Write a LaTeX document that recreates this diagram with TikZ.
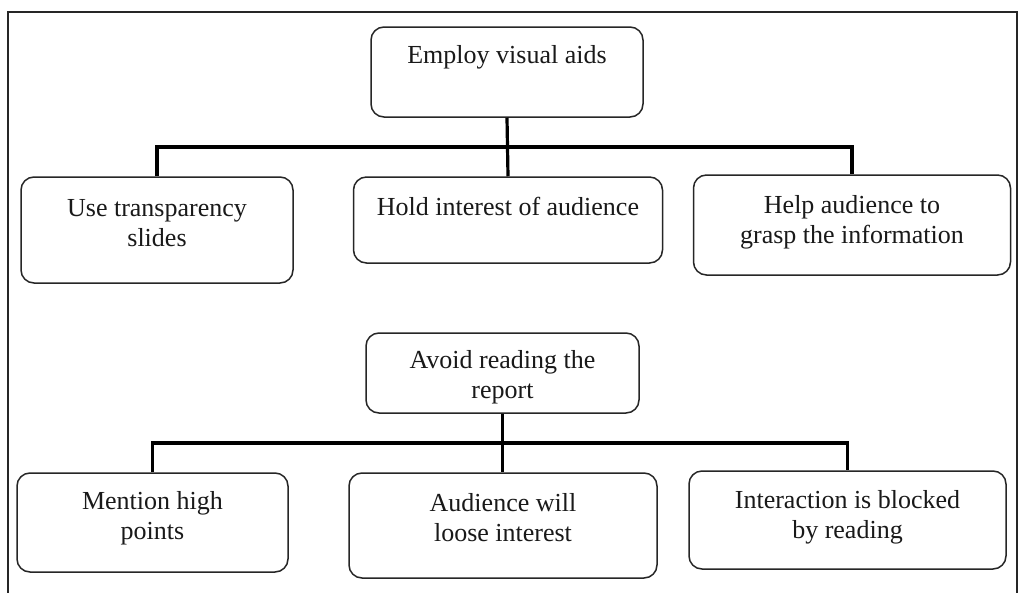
\documentclass[tikz,border=0pt]{standalone}
\usepackage{fontspec}
\setmainfont{Liberation Serif}
\begin{document}
\begin{tikzpicture}[x=1pt,y=-1pt,
  box/.style={draw=black!85, line width=1.5pt, rounded corners=13pt, inner sep=0pt},
  txt/.style={align=center, inner sep=0pt, font=\fontsize{26pt}{30pt}\selectfont, text=black!90},
  conn/.style={draw=black, line width=3.2pt},
  frame/.style={draw=black!85, line width=1.6pt}]
\useasboundingbox[fill=white] (0,0) rectangle (1023,592);
% frame
\draw[frame] (8,595) -- (8,12) -- (1017,12) -- (1017,595);
% upper group
\node[box, minimum width=272pt, minimum height=90pt] (top) at (507,72) {};
\node[txt] (ttop) at (507,57) {Employ visual aids};
\node[box, minimum width=272pt, minimum height=106pt] (b1) at (157,230) {};
\node[txt] (tb1) at (157,223) {Use transparency\\slides};
\node[box, minimum width=309pt, minimum height=86pt] (b2) at (508,220) {};
\node[txt] (tb2) at (508,206) {Hold interest of audience};
\node[box, minimum width=317pt, minimum height=100pt] (b3) at (852,225) {};
\node[txt] (tb3) at (852,222) {Help audience to\\grasp the information};
\draw[conn] (top.south) -- (b2.north);
\draw[conn] (b1.north) |- (508,147) -| (b3.north);
% lower group
\node[box, minimum width=273pt, minimum height=80pt] (mid) at (502.5,373) {};
\node[txt] (tmid) at (502.5,377) {Avoid reading the\\report};
\node[box, minimum width=271pt, minimum height=99pt] (b4) at (152.5,522.5) {};
\node[txt] (tb4) at (152.5,518) {Mention high\\points};
\node[box, minimum width=308pt, minimum height=105pt] (b5) at (503,525.5) {};
\node[txt] (tb5) at (503,518) {Audience will\\loose interest};
\node[box, minimum width=317pt, minimum height=98pt] (b6) at (847.5,520) {};
\node[txt] (tb6) at (847.5,517) {Interaction is blocked\\by reading};
\draw[conn] (mid.south) -- (mid.south |- b5.north);
\draw[conn] (b4.north) |- (502.5,443) -| (b6.north);
\end{tikzpicture}
\end{document}
